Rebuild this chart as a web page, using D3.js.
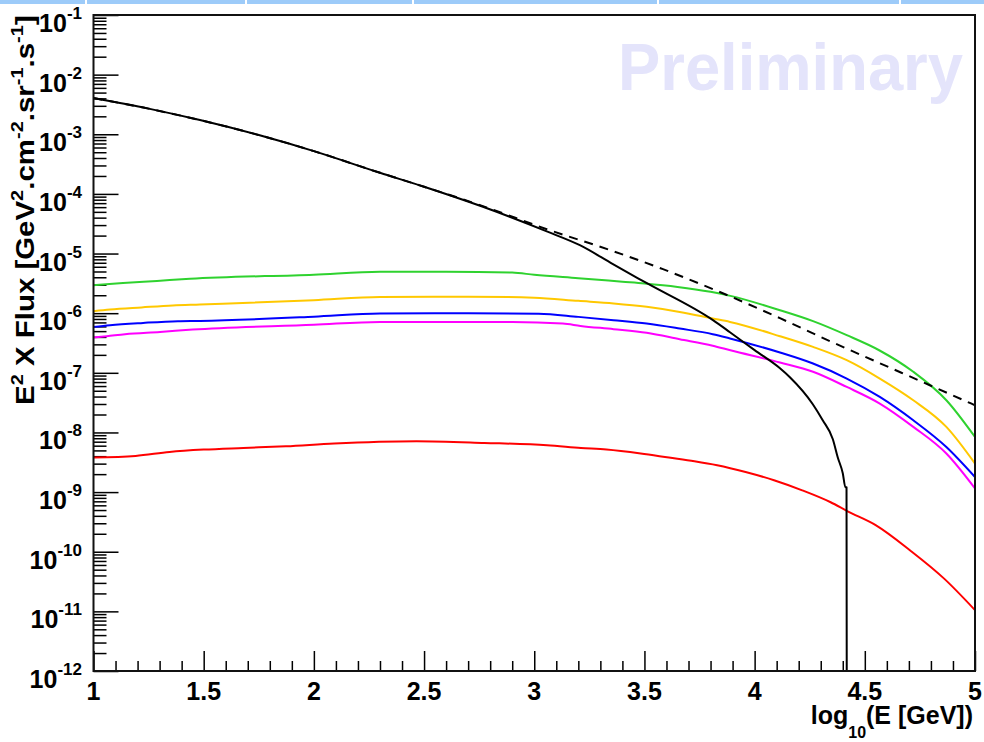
<!DOCTYPE html>
<html>
<head>
<meta charset="utf-8">
<script src="https://cdn.jsdelivr.net/npm/d3@7"></script>
<style>
  html, body { margin: 0; padding: 0; background: #fff; }
  svg { display: block; }
  text { font-family: "Liberation Sans", Arial, Helvetica, sans-serif; font-weight: bold; }
</style>
</head>
<body>
<svg id="chart" width="984" height="742"></svg>
<script>
// Spectra: [log10(E / GeV), E^2 x flux in GeV^2 cm^-2 sr^-1 s^-1]
const totalSpectrum = [
  [1.0, 4.05e-3], [1.25, 2.69e-3], [1.483, 1.73e-3], [1.75, 9.70e-4], [2.0, 5.22e-4],
  [2.3, 2.26e-4], [2.5, 1.32e-4], [2.767, 6.08e-5], [3.057, 2.35e-5], [3.207, 1.38e-5],
  [3.357, 6.64e-6], [3.511, 3.18e-6], [3.811, 7.64e-7], [3.888, 4.80e-7], [4.0, 2.40e-7],
  [4.115, 1.19e-7], [4.16, 8.43e-8], [4.264, 2.97e-8], [4.309, 1.60e-8], [4.355, 7.69e-9],
  [4.377, 3.84e-9], [4.4, 2.07e-9], [4.412, 1.20e-9], [4.417, 1.20e-9], [4.418, 0]
];
const powerLawSpectrum = [
  [1.0, 4.05e-3], [1.25, 2.69e-3], [1.483, 1.73e-3], [1.75, 9.70e-4], [2.0, 5.22e-4],
  [2.3, 2.26e-4], [2.5, 1.32e-4], [2.767, 6.24e-5], [3.057, 2.56e-5], [3.357, 1.10e-5],
  [3.584, 5.47e-6], [3.811, 2.53e-6], [4.115, 8.24e-7], [4.342, 3.39e-7], [4.568, 1.45e-7],
  [4.795, 6.19e-8], [5.0, 2.86e-8]
];
const greenSpectrum = [
  [1.0, 2.95e-6], [1.134, 3.22e-6], [1.288, 3.48e-6], [1.438, 3.77e-6], [2.0, 4.43e-6],
  [2.3, 4.93e-6], [2.6, 4.97e-6], [2.9, 4.79e-6], [3.0, 4.41e-6], [3.2, 3.86e-6],
  [3.4, 3.37e-6], [3.5, 3.15e-6], [3.65, 2.76e-6], [3.8, 2.28e-6], [3.89, 1.95e-6],
  [4.115, 1.12e-6], [4.265, 7.35e-7], [4.418, 4.28e-7], [4.565, 2.39e-7], [4.72, 1.04e-7],
  [4.87, 3.47e-8], [5.0, 8.39e-9]
];
const orangeSpectrum = [
  [1.0, 1.08e-6], [1.075, 1.15e-6], [1.218, 1.25e-6], [1.36, 1.35e-6], [1.483, 1.40e-6],
  [2.0, 1.65e-6], [2.3, 1.87e-6], [2.7, 1.89e-6], [3.0, 1.82e-6], [3.2, 1.61e-6],
  [3.36, 1.46e-6], [3.51, 1.28e-6], [3.66, 1.05e-6], [3.81, 8.15e-7], [3.888, 7.14e-7],
  [4.115, 4.11e-7], [4.265, 2.72e-7], [4.418, 1.63e-7], [4.568, 8.02e-8], [4.72, 3.47e-8],
  [4.87, 1.24e-8], [5.0, 3.01e-9]
];
const blueSpectrum = [
  [1.0, 5.89e-7], [1.075, 6.30e-7], [1.225, 6.87e-7], [1.383, 7.35e-7], [1.483, 7.43e-7],
  [2.0, 8.73e-7], [2.3, 9.89e-7], [2.7, 1.00e-6], [3.02, 9.82e-7], [3.2, 8.67e-7],
  [3.36, 7.64e-7], [3.51, 6.71e-7], [3.66, 5.53e-7], [3.81, 4.45e-7], [3.888, 3.77e-7],
  [4.115, 2.19e-7], [4.265, 1.43e-7], [4.418, 8.02e-8], [4.568, 3.94e-8], [4.72, 1.60e-8],
  [4.87, 5.71e-9], [5.0, 1.79e-9]
];
const magentaSpectrum = [
  [1.0, 3.91e-7], [1.06, 4.11e-7], [1.143, 4.45e-7], [1.302, 4.85e-7], [1.45, 5.32e-7],
  [2.0, 6.41e-7], [2.3, 7.14e-7], [2.9, 7.14e-7], [3.13, 6.71e-7], [3.21, 6.12e-7],
  [3.36, 5.40e-7], [3.51, 4.68e-7], [3.66, 3.66e-7], [3.81, 2.85e-7], [3.89, 2.39e-7],
  [4.115, 1.49e-7], [4.265, 1.04e-7], [4.418, 5.79e-8], [4.568, 3.05e-8], [4.72, 1.24e-8],
  [4.87, 4.43e-9], [5.0, 1.15e-9]
];
const redSpectrum = [
  [1.0, 3.79e-9], [1.191, 4.04e-9], [1.345, 4.71e-9], [1.5, 5.16e-9], [1.68, 5.50e-9],
  [1.873, 5.86e-9], [2.092, 6.52e-9], [2.466, 7.11e-9], [2.774, 6.67e-9], [3.058, 6.10e-9],
  [3.212, 5.50e-9], [3.328, 5.16e-9], [3.483, 4.43e-9], [3.611, 3.79e-9], [3.727, 3.29e-9],
  [3.83, 2.82e-9], [3.959, 2.17e-9], [4.088, 1.58e-9], [4.216, 1.07e-9], [4.345, 6.75e-10],
  [4.422, 4.76e-10], [4.551, 2.77e-10], [4.706, 1.05e-10], [4.86, 3.54e-11], [5.0, 1.05e-11]
];

// Axis ticks and labels
const xMajorTicks = [1, 1.5, 2, 2.5, 3, 3.5, 4, 4.5, 5];
const xTickLabels = ["1", "1.5", "2", "2.5", "3", "3.5", "4", "4.5", "5"];
const yDecadeExponents = [-1, -2, -3, -4, -5, -6, -7, -8, -9, -10, -11, -12];
const yTickLabels = yDecadeExponents.map(e => String(e));

const series = [
  { data: redSpectrum,      color: "#ff0000", dash: null },
  { data: magentaSpectrum,  color: "#ff00ff", dash: null },
  { data: blueSpectrum,     color: "#0000ff", dash: null },
  { data: orangeSpectrum,   color: "#ffc800", dash: null },
  { data: greenSpectrum,    color: "#2fd22f", dash: null },
  { data: powerLawSpectrum, color: "#000000", dash: "9,7" },
  { data: totalSpectrum,    color: "#000000", dash: null }
];

const svg = d3.select("#chart");
const frame = { left: 93.5, right: 975, top: 15, bottom: 671 };
const yMin = 1e-12, yMax = 1e-1;

const x = d3.scaleLinear().domain([1, 5]).range([frame.left, frame.right]);
const y = d3.scaleLog().domain([yMin, yMax]).range([frame.bottom, frame.top]);

// Page header band
const band = svg.append("g");
band.append("rect").attr("x", 0).attr("y", 0).attr("width", 984).attr("height", 4).attr("fill", "#9dcbf9");
[85, 245, 412, 657, 899].forEach(bx => {
  band.append("rect").attr("x", bx).attr("y", 0).attr("width", 2).attr("height", 4).attr("fill", "#ffffff");
});

// Watermark
svg.append("text")
  .attr("x", 618).attr("y", 90)
  .attr("font-size", 66)
  .attr("textLength", 345).attr("lengthAdjust", "spacingAndGlyphs")
  .attr("fill", "#e4e4fb")
  .text("Preliminary");

// Tick marks (drawn inward, ROOT style)
const yMinorTicks = [];
for (let e = -12; e < -1; e++) for (let k = 2; k <= 9; k++) yMinorTicks.push(k * Math.pow(10, e));
const xMinorTicks = d3.range(11, 50).map(v => v / 10).filter(v => Math.round(v * 10) % 5 !== 0);

const styleAxis = g => {
  g.select(".domain").remove();
  g.selectAll(".tick line").attr("stroke", "#000").attr("stroke-width", 1.5);
};

svg.append("g").attr("transform", `translate(${frame.left},0)`)
  .call(d3.axisLeft(y).tickValues(yDecadeExponents.map(e => Math.pow(10, e))).tickSize(-25).tickFormat(""))
  .call(styleAxis);
svg.append("g").attr("transform", `translate(${frame.left},0)`)
  .call(d3.axisLeft(y).tickValues(yMinorTicks).tickSize(-13).tickFormat(""))
  .call(styleAxis);
svg.append("g").attr("transform", `translate(0,${frame.bottom})`)
  .call(d3.axisBottom(x).tickValues(xMajorTicks).tickSize(-20).tickFormat(""))
  .call(styleAxis);
svg.append("g").attr("transform", `translate(0,${frame.bottom})`)
  .call(d3.axisBottom(x).tickValues(xMinorTicks).tickSize(-10).tickFormat(""))
  .call(styleAxis);

// Tick labels
svg.append("g").selectAll("text")
  .data(xMajorTicks)
  .join("text")
  .attr("x", d => x(d))
  .attr("y", frame.bottom + 29)
  .attr("text-anchor", "middle")
  .attr("font-size", 25)
  .attr("fill", "#000")
  .text((d, i) => xTickLabels[i]);

const yLabels = svg.append("g").selectAll("text")
  .data(yDecadeExponents)
  .join("text")
  .attr("x", 82)
  .attr("y", d => y(Math.pow(10, d)) + 17)
  .attr("text-anchor", "end")
  .attr("font-size", 25)
  .attr("fill", "#000");
yLabels.append("tspan").text("10");
yLabels.append("tspan").attr("font-size", 17).attr("dy", -13).text((d, i) => yTickLabels[i]);

// Curves
svg.append("clipPath").attr("id", "plotArea")
  .append("rect")
  .attr("x", frame.left).attr("y", frame.top)
  .attr("width", frame.right - frame.left).attr("height", frame.bottom - frame.top);

const line = d3.line()
  .curve(d3.curveMonotoneX)
  .x(d => x(d[0]))
  .y(d => y(Math.max(d[1], yMin)));

svg.append("g").attr("clip-path", "url(#plotArea)")
  .selectAll("path")
  .data(series)
  .join("path")
  .attr("d", s => line(s.data))
  .attr("fill", "none")
  .attr("stroke", s => s.color)
  .attr("stroke-width", 2)
  .attr("stroke-linejoin", "round")
  .attr("stroke-dasharray", s => s.dash);

// Frame
svg.append("rect")
  .attr("x", frame.left).attr("y", frame.top)
  .attr("width", frame.right - frame.left).attr("height", frame.bottom - frame.top)
  .attr("fill", "none").attr("stroke", "#111").attr("stroke-width", 2);

// Axis titles
const xTitle = svg.append("text")
  .attr("text-anchor", "end")
  .attr("font-size", 25)
  .attr("fill", "#000")
  .attr("transform", `translate(${frame.right - 2},724)`);
xTitle.append("tspan").text("log");
xTitle.append("tspan").attr("font-size", 16).attr("dy", 14).text("10");
xTitle.append("tspan").attr("dy", -14).text("(E [GeV])");

const yTitleG = svg.append("g").attr("transform", "translate(34,405) rotate(-90)");
const yTitle = yTitleG.append("text")
  .attr("font-size", 25)
  .attr("fill", "#000");
const sup = (t, txt) => t.append("tspan").attr("font-size", 17).attr("dy", -11).text(txt);
const base = (t, txt) => t.append("tspan").attr("dy", 11).text(txt);
yTitle.append("tspan").text("E");
sup(yTitle, "2");
base(yTitle, " X Flux [GeV");
sup(yTitle, "2");
base(yTitle, ".cm");
sup(yTitle, "-2");
base(yTitle, ".sr");
sup(yTitle, "-1");
base(yTitle, ".s");
sup(yTitle, "-1");
base(yTitle, "]");
// stretch the title along its direction so it spans the axis height
const titleLen = yTitle.node().getComputedTextLength();
yTitle.attr("transform", `scale(${390 / titleLen},1)`);
</script>
</body>
</html>
